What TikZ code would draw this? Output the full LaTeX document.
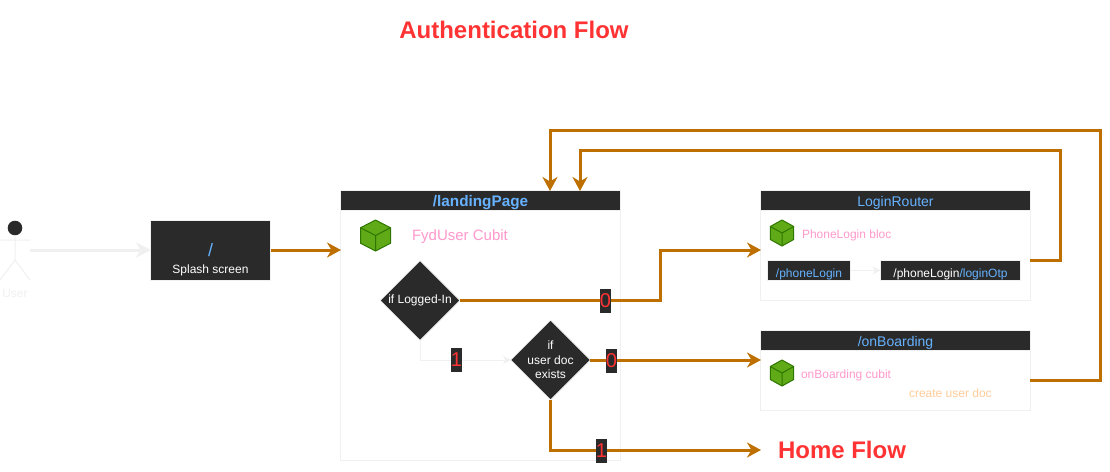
\documentclass[tikz,border=0pt]{standalone}
\usepackage{fontspec}
\setmainfont{Liberation Sans}
\usetikzlibrary{arrows.meta,shapes.geometric,positioning}
\definecolor{dark}{HTML}{2A2A2A}
\definecolor{edgeb}{HTML}{BD7000}
\definecolor{pale}{HTML}{F0F0F0}
\definecolor{bluet}{HTML}{66B2FF}
\definecolor{pinkt}{HTML}{FF99CC}
\definecolor{oranget}{HTML}{FFCC99}
\definecolor{redt}{HTML}{FF3333}
\definecolor{cubef}{HTML}{60A917}
\definecolor{cubel}{HTML}{2D7600}
\tikzset{
  x=1pt,y=-1pt,
  every node/.style={inner sep=0pt,outer sep=0pt},
  panel/.style={draw=pale,fill=white,line width=1pt,anchor=north west},
  header/.style={draw=pale,fill=dark,line width=1pt,anchor=north west,minimum height=20pt,text=bluet,text height=11pt,text depth=0pt,font=\fontsize{14}{16}\selectfont},
  darkbox/.style={draw=pale,fill=dark,line width=1pt,anchor=north west,font=\fontsize{12}{14}\selectfont},
  routebox/.style={darkbox,minimum height=20pt,text height=13pt,text depth=0pt},
  decision/.style={diamond,aspect=1,fill=dark,draw=pale,line width=.6pt,inner sep=-12pt,minimum width=79.5pt,minimum height=79.5pt,text=white,align=center,font=\fontsize{12}{14.5}\selectfont},
  flow/.style={draw=edgeb,line width=3pt,-{Stealth[length=14pt,width=15pt,inset=4.5pt]}},
  paleflow/.style={draw=pale,line width=1pt,-{Stealth[length=8pt,width=8pt,inset=2.5pt]}},
  bigpale/.style={draw=pale,line width=3pt,-{Stealth[length=15pt,width=15pt,inset=4.5pt]}},
  bit/.style={fill=dark,text=redt,minimum width=11pt,minimum height=24pt,font=\fontsize{20}{20}\selectfont},
  pinktext/.style={text=pinkt,anchor=west,font=\fontsize{12}{14}\selectfont},
  actorline/.style={draw=pale,line width=1pt},
  cubeface/.style={fill=cubef,draw=cubel,line width=1pt,line join=round},
  bigtitle/.style={text=redt,font=\bfseries\fontsize{24}{28}\selectfont},
}
\newcommand{\cubeicon}[4]{%
  \begin{scope}[shift={(#1,#2)},xscale=#3,yscale=#4]
    \path[cubeface] (0,-1) -- (1,-.5) -- (1,.5) -- (0,1) -- (-1,.5) -- (-1,-.5) -- cycle;
    \draw[cubel,line width=1pt,line join=round] (-1,-.5) -- (0,0) -- (1,-.5) (0,0) -- (0,1);
  \end{scope}}
\begin{document}
\begin{tikzpicture}
\useasboundingbox (0,0) rectangle (1110,471);
\fill[white] (0,0) rectangle (1110,471);

\node[bigtitle] (title) at (514,30) {Authentication Flow};

% panels
\node[panel,minimum width=280pt,minimum height=270pt] (landing) at (340.5,190.5) {};
\node[header,minimum width=280pt,font=\bfseries\fontsize{15.3}{17}\selectfont] (landinghead) at (340.5,190.5) {/landingPage};
\node[panel,minimum width=270pt,minimum height=110pt] (router) at (760.5,190.5) {};
\node[header,minimum width=270pt] (routerhead) at (760.5,190.5) {LoginRouter};
\node[panel,minimum width=270pt,minimum height=80pt] (board) at (760.5,330.5) {};
\node[header,minimum width=270pt] (boardhead) at (760.5,330.5) {/onBoarding};

% splash
\node[darkbox,minimum width=120pt,minimum height=60pt] (splash) at (150.5,220.5) {};
\node[text=bluet,font=\fontsize{18}{20}\selectfont] (splashpath) at (210.5,250) {/};
\node[text=white,font=\fontsize{12}{14}\selectfont] (splashname) at (210.5,270) {Splash screen};

% actor
\fill[dark] (15,228) circle (7.3);
\draw[actorline] (15,235) -- (15,260) (0,240) -- (30,240) (0,280) -- (15,260) -- (30,280);
\coordinate (actor) at (30,250);
\node[text=pale,font=\fontsize{12}{14}\selectfont] (userlabel) at (15,293) {User};

% cubes and captions
\cubeicon{375.5}{235.5}{15}{15.5}
\cubeicon{782}{233}{11.7}{13}
\cubeicon{782}{373}{11.7}{13}
\node[pinktext,font=\fontsize{15}{17}\selectfont] (fyd) at (412,236.5) {FydUser Cubit};
\node[pinktext] (phonebloc) at (802,235) {PhoneLogin bloc};
\node[pinktext] (boardcubit) at (801,375) {onBoarding cubit};
\node[text=oranget,anchor=west,font=\fontsize{12}{14}\selectfont] (createdoc) at (909,393) {create user doc};

% router inner boxes
\node[routebox,minimum width=83pt,text=bluet] (phone) at (767.5,260.5) {/phoneLogin};
\node[routebox,minimum width=140pt] (otp) at (880.5,260.5) {\textcolor{white}{/phoneLogin}\textcolor{bluet}{/loginOtp}};
\draw[paleflow] (phone.east) -- (otp.west);

% decisions
\node[decision,yshift=-.5pt] (logged) at (420,300) {if Logged-In};
\node[decision] (userdoc) at (550.5,360) {if\\user doc\\exists};

% named connector ends
\coordinate (toRouter) at (761,250);
\coordinate (toBoard) at (761,360);
\coordinate (toHome) at (761,450);
\coordinate (toLandingA) at (550,191);
\coordinate (toLandingB) at (580,191);
\coordinate (fromRouter) at (1030,260);
\coordinate (fromBoard) at (1030,380);
\coordinate (toLanding) at (341,250);
\coordinate (toUserdoc) at (511,360);
\coordinate (userdocOut) at (550,400);
\coordinate (loggedOut) at (459.5,300);
\coordinate (loggedDown) at (420,339.5);

% connectors
\draw[bigpale] (actor) -- (151,250);
\draw[flow] (271,250) -- (toLanding);
\draw[paleflow] (loggedDown) -- (420,360) -- (toUserdoc);
\draw[flow] (loggedOut) -- (660,300) -- (660,250) -- (toRouter);
\draw[flow] (userdoc.east) -- (toBoard);
\draw[flow] (userdocOut) -- (550,450) -- (toHome);
\draw[flow] (fromRouter) -- (1060,260) -- (1060,150) -- (580,150) -- (toLandingB);
\draw[flow] (fromBoard) -- (1100,380) -- (1100,130) -- (550,130) -- (toLandingA);

% connector labels
\node[bit] (bitA) at (605.5,301) {0};
\node[bit] (bitB) at (456.5,360) {1};
\node[bit] (bitC) at (611.5,361) {0};
\node[bit] (bitD) at (601.5,451) {1};

\node[bigtitle,anchor=west] (homeflow) at (778,450) {Home Flow};
\end{tikzpicture}
\end{document}
